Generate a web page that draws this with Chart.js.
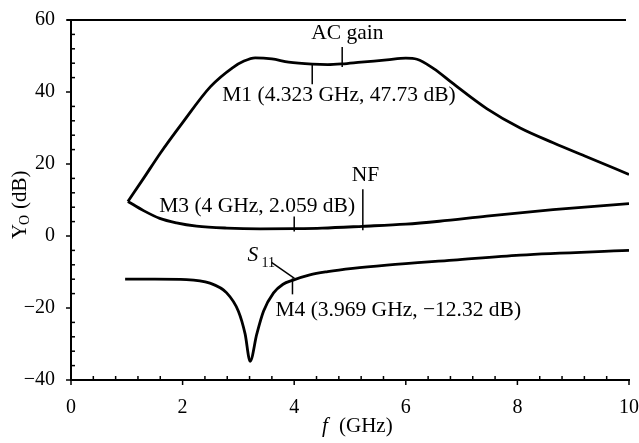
<!DOCTYPE html>
<html>
<head>
<meta charset="utf-8">
<script src="https://cdn.jsdelivr.net/npm/chart.js@4.4.1/dist/chart.umd.min.js"></script>
<style>
  html, body { margin: 0; padding: 0; background: #fff; }
  #wrap { width: 639px; height: 443px; position: relative; }
</style>
</head>
<body>
<div id="wrap"><canvas id="chart"></canvas></div>
<script>
// AC gain (dB) vs frequency (GHz)
const gainFreq = [1.02, 1.3, 1.6, 2.0, 2.5, 2.9, 3.1, 3.3, 3.6, 3.9, 4.323, 4.6, 4.86, 5.2, 5.66, 6.0, 6.2, 6.5, 6.85, 7.45, 8.05, 8.64, 9.24, 10];
const gainDb = [9.6, 16.0, 23.0, 31.5, 41.5, 46.8, 48.6, 49.5, 49.2, 48.3, 47.73, 47.6, 47.8, 48.3, 48.9, 49.4, 49.1, 46.5, 42.3, 35.4, 30.0, 25.9, 22.0, 17.1];

// noise figure
const nfFreq = [1.02, 1.3, 1.59, 1.89, 2.25, 2.79, 3.39, 4.0, 4.5, 5.23, 6.0, 6.6, 7.45, 8.64, 10];
const nfDb = [9.6, 7.05, 4.9, 3.66, 2.75, 2.2, 2.0, 2.059, 2.2, 2.7, 3.3, 4.1, 5.5, 7.3, 9.0];

// S11
const s11Freq = [0.97, 1.5, 2.07, 2.49, 2.79, 3.0, 3.12, 3.21, 3.33, 3.45, 3.63, 3.8, 3.969, 4.28, 4.6, 5.05, 5.66, 6.85, 8.05, 10];
const s11Db = [-12.0, -12.0, -12.1, -13.1, -15.8, -20.9, -27.2, -34.8, -27.2, -20.9, -15.8, -13.4, -12.32, -10.8, -9.9, -9.0, -8.1, -6.7, -5.3, -4.0];

const xTicks = [0, 2, 4, 6, 8, 10];
const yTicks = [-40, -20, 0, 20, 40, 60];

// markers: [freq, dB, label]
const markerFreq = [4.323, 4, 3.969];
const markerDb = [47.73, 2.059, -12.32];
const markerText = ['M1 (4.323 GHz, 47.73 dB)', 'M3 (4 GHz, 2.059 dB)', 'M4 (3.969 GHz, \u221212.32 dB)'];

// curve name tags
const tagFreq = [4.86, 5.23];
const tagDb = [47.8, 2.7];
const tagText = ['AC gain', 'NF'];

const toPts = (xs, ys) => xs.map((x, i) => ({ x, y: ys[i] }));

const SERIF = '"Liberation Serif", "Times New Roman", serif';

const decor = {
  id: 'decor',
  afterDraw(chart) {
    const c = chart.ctx;
    const xs = chart.scales.x, ys = chart.scales.y;
    const area = chart.chartArea;
    c.save();
    c.strokeStyle = '#000';
    c.fillStyle = '#000';

    // top frame line
    c.lineWidth = 2;
    c.beginPath();
    c.moveTo(area.left - 4, area.top);
    c.lineTo(area.right - 3, area.top);
    c.stroke();

    // ticks: major outward, minor inward
    c.lineWidth = 1.5;
    for (let v = 0; v <= 10.001; v += 0.4) {
      const px = xs.getPixelForValue(v);
      const major = Math.abs(v / 2 - Math.round(v / 2)) < 0.01;
      c.beginPath();
      if (major) { c.moveTo(px, area.bottom); c.lineTo(px, area.bottom + 5); }
      else { c.moveTo(px, area.bottom); c.lineTo(px, area.bottom - 4); }
      c.stroke();
    }
    for (let v = -40; v <= 60; v += 4) {
      const py = ys.getPixelForValue(v);
      const major = v % 20 === 0;
      c.beginPath();
      if (major) { c.moveTo(area.left, py); c.lineTo(area.left - 5, py); }
      else { c.moveTo(area.left, py); c.lineTo(area.left + 4, py); }
      c.stroke();
    }

    c.font = '21.5px ' + SERIF;
    c.textBaseline = 'middle';
    c.lineWidth = 1.5;

    // tags for curves
    const tagX = [ -31, -11 ];
    const tagUp = [ [-17, 3, -31], [-37, 4, -51] ];
    tagFreq.forEach((f, i) => {
      const px = xs.getPixelForValue(f), py = ys.getPixelForValue(tagDb[i]);
      c.beginPath();
      c.moveTo(px, py + tagUp[i][0]);
      c.lineTo(px, py + tagUp[i][1]);
      c.stroke();
      c.fillText(tagText[i], px + tagX[i], py + tagUp[i][2]);
    });

    // marker lines and readouts
    const mk = [
      { up: -1, down: 20, tx: -90, ty: 31 },
      { up: -12, down: 3, tx: -135, ty: -22 },
      { up: -2, down: 14, tx: -17, ty: 30 }
    ];
    markerFreq.forEach((f, i) => {
      const px = xs.getPixelForValue(f), py = ys.getPixelForValue(markerDb[i]);
      c.beginPath();
      c.moveTo(px, py + mk[i].up);
      c.lineTo(px, py + mk[i].down);
      c.stroke();
      c.fillText(markerText[i], px + mk[i].tx, py + mk[i].ty);
    });

    // S11 label with leader line to M4
    const m4x = xs.getPixelForValue(markerFreq[2]), m4y = ys.getPixelForValue(markerDb[2]);
    c.beginPath();
    c.moveTo(m4x - 21, m4y - 18);
    c.lineTo(m4x + 2, m4y - 2);
    c.stroke();
    c.font = 'italic 21.5px ' + SERIF;
    c.fillText('S', m4x - 45, m4y - 25);
    c.font = '14px ' + SERIF;
    c.fillText('11', m4x - 31, m4y - 17);

    // x axis title
    c.font = 'italic 21px ' + SERIF;
    c.textAlign = 'left';
    c.fillText('f', 322, 426);
    c.font = '21px ' + SERIF;
    c.fillText('(GHz)', 339, 426);

    // y axis title, rotated
    c.translate(20, 205);
    c.rotate(-Math.PI / 2);
    c.font = '21px ' + SERIF;
    c.fillText('Y', -34, 0);
    c.font = '14px ' + SERIF;
    c.fillText('O', -20, 5);
    c.font = '21px ' + SERIF;
    c.fillText('(dB)', -4, 0);
    c.restore();
  }
};

const lineStyle = {
  borderColor: '#000',
  borderWidth: 2.8,
  pointRadius: 0,
  fill: false,
  cubicInterpolationMode: 'monotone'
};

new Chart(document.getElementById('chart'), {
  type: 'scatter',
  data: {
    datasets: [
      { label: 'AC gain', data: toPts(gainFreq, gainDb), showLine: true, ...lineStyle },
      { label: 'NF', data: toPts(nfFreq, nfDb), showLine: true, ...lineStyle },
      { label: 'S11', data: toPts(s11Freq, s11Db), showLine: true, ...lineStyle }
    ]
  },
  options: {
    responsive: true,
    maintainAspectRatio: false,
    animation: false,
    layout: { padding: { left: 0, top: 16, right: 0, bottom: 0 } },
    plugins: {
      legend: { display: false },
      tooltip: { enabled: false }
    },
    scales: {
      x: {
        type: 'linear',
        min: 0,
        max: 10,
        afterBuildTicks: s => { s.ticks = xTicks.map(v => ({ value: v })); },
        afterFit: s => { s.height = 63; s.paddingRight = 10; },
        grid: { display: false },
        border: { display: true, color: '#000', width: 2 },
        ticks: {
          color: '#000',
          padding: 8,
          maxRotation: 0,
          font: { family: SERIF, size: 20 }
        }
      },
      y: {
        type: 'linear',
        min: -40,
        max: 60,
        afterBuildTicks: s => { s.ticks = yTicks.map(v => ({ value: v })); },
        afterFit: s => { s.width = 71; },
        grid: { display: false },
        border: { display: true, color: '#000', width: 2 },
        ticks: {
          color: '#000',
          padding: 8,
          font: { family: SERIF, size: 20 },
          callback: v => String(v).replace('-', '\u2212')
        }
      }
    }
  },
  plugins: [decor]
});
</script>
</body>
</html>
